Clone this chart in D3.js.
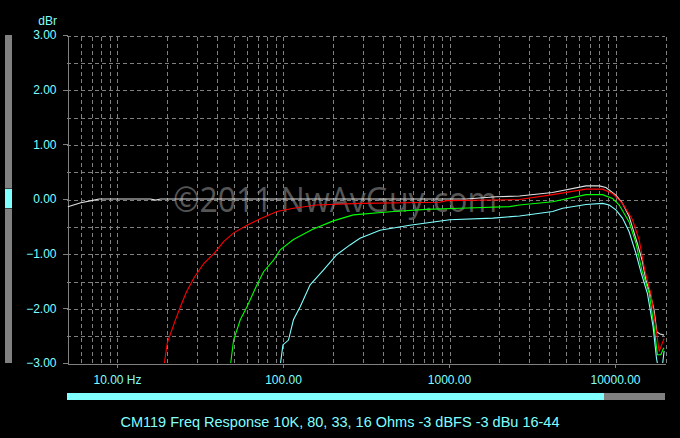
<!DOCTYPE html>
<html>
<head>
<meta charset="utf-8">
<script src="https://cdn.jsdelivr.net/npm/d3@7"></script>
<style>
  body { margin: 0; background: #000; }
  svg { display: block; }
</style>
</head>
<body>
<div id="chart"></div>
<script>
// Data: [frequency in Hz, level in dBr] ------------------------------------------------------------------------------
const load10k = [
  [5.06, -0.14], [6.05, -0.07], [7.28, -0.02], [7.8, 0], [15.9, 0], [17.1, -0.02], [18.3, 0], [1271, 0],
  [1926, 0.04], [2658, 0.055], [4197, 0.12], [6687, 0.24], [8040, 0.24], [8816, 0.21], [10120, 0.07],
  [11045, -0.07], [12160, -0.32], [12680, -0.5], [13590, -0.8], [14560, -1.12], [15340, -1.48],
  [16260, -1.72], [17190, -2.03], [17850, -2.43], [18680, -2.47], [19750, -2.49]
];
const load80 = [
  [19.2, -3.05], [20.1, -2.63], [22.5, -2.21], [24.1, -1.97], [26.2, -1.7], [29.0, -1.45], [33.3, -1.18],
  [38.6, -0.99], [43.9, -0.78], [50.4, -0.62], [60.7, -0.48], [73.0, -0.36], [91.9, -0.23],
  [115.6, -0.17], [159.8, -0.11], [290.9, -0.08], [879, -0.06], [964, -0.03], [2658, -0.01], [4213, 0.08],
  [6687, 0.18], [8413, 0.18], [9660, 0.1], [11090, -0.08], [12740, -0.38], [13980, -0.75], [15100, -1.3],
  [16430, -1.73], [17610, -2.34], [18440, -2.79], [19750, -2.55]
];
const load33 = [
  [48.2, -3.05], [50.4, -2.58], [55.3, -2.21], [60.7, -1.97], [69.7, -1.57], [76.4, -1.33], [87.7, -1.12],
  [96.2, -0.93], [115.6, -0.74], [150, -0.56], [201, -0.4], [265, -0.29], [461, -0.23], [731, -0.19],
  [1160, -0.17], [2315, -0.14], [2658, -0.11], [4213, -0.05], [6687, 0.08], [8413, 0.08], [9660, 0.01],
  [10600, -0.11], [12160, -0.42], [13350, -0.8], [14500, -1.3], [16050, -1.72], [17190, -2.34],
  [18000, -2.85], [18870, -2.85], [19470, -2.75], [19750, -2.72]
];
const load16 = [
  [96.2, -3.05], [99.9, -2.67], [107.9, -2.58], [115.6, -2.21], [126.9, -1.97], [145.7, -1.57],
  [175.1, -1.3], [210.7, -1.02], [253.3, -0.84], [290.9, -0.72], [383.6, -0.57], [580.7, -0.48],
  [1010, -0.38], [1838, -0.35], [2658, -0.31], [4213, -0.23], [4838, -0.17], [6687, -0.1], [8413, -0.08],
  [9230, -0.11], [10120, -0.2], [11090, -0.35], [12160, -0.6], [13350, -0.99], [14370, -1.35],
  [15680, -1.73], [16960, -2.34], [17750, -2.9], [18440, -3.2], [19210, -3.1], [19750, -2.78]
];

const seriesColors = ["#e0e0e0", "#ff0000", "#00ff00", "#80ffff"];

const yTicks = [-3, -2, -1, 0, 1, 2, 3];
const xTicks = [10, 100, 1000, 10000];
const xTickLabels = ["10.00 Hz", "100.00", "1000.00", "10000.00"];

const yTitle = "dBr";
const chartTitle = "CM119 Freq Response 10K, 80, 33, 16 Ohms -3 dBFS -3 dBu 16-44";
const watermark = "\u00a92011 NwAvGuy.com";

// Initialize the canvas -------------------------------------------------------------------------------------------
const canvasWidth = 680;
const canvasHeight = 438;

const plotLeft = 67;
const plotRight = 665;
const plotTop = 35;
const plotBottom = 363;

const gridColor = "#808080";
const textColor = "#80ffff";
const fontFamily = "'Liberation Sans', Arial, sans-serif";

const svg = d3.select("#chart")
  .append("svg")
  .attr("width", canvasWidth)
  .attr("height", canvasHeight)
  .style("background", "#000");

const xScale = d3.scaleLog()
  .domain([5, 20000])
  .range([plotLeft, plotRight]);
const yScale = d3.scaleLinear()
  .domain([-3, 3])
  .range([plotBottom, plotTop]);

// Watermark (sits behind the grid and traces) ---------------------------------------------------------------------
svg.append("text")
  .text(watermark)
  .attr("x", 173)
  .attr("y", 212)
  .attr("textLength", 324)
  .attr("lengthAdjust", "spacingAndGlyphs")
  .style("font-family", "'Open Sans', sans-serif")
  .style("font-size", "35px")
  .style("fill", "#555555");

// Grid ------------------------------------------------------------------------------------------------------------
const gridFreqs = [];
[1, 10, 100, 1000, 10000].forEach(function(decade) {
  d3.range(1, 10).forEach(function(m) {
    const f = m * decade;
    if (f > 5 && f <= 20000) gridFreqs.push(f);
  });
});
const gridLevels = d3.range(-2.5, 3.01, 0.5);

const xGrid = svg.append("g")
  .attr("transform", "translate(0," + plotBottom + ")")
  .call(d3.axisBottom(xScale).tickValues(gridFreqs).tickSize(-(plotBottom - plotTop)).tickFormat(""));
xGrid.select(".domain").remove();
xGrid.selectAll("line")
  .attr("transform", "translate(0.5,0)")
  .style("stroke", gridColor)
  .style("stroke-dasharray", "4,3")
  .style("shape-rendering", "crispEdges");

const yGrid = svg.append("g")
  .attr("transform", "translate(" + plotLeft + ",0)")
  .call(d3.axisRight(yScale).tickValues(gridLevels).tickSize(plotRight - plotLeft).tickFormat(""));
yGrid.select(".domain").remove();
yGrid.selectAll("line")
  .attr("transform", "translate(0,0.5)")
  .style("stroke", gridColor)
  .style("stroke-dasharray", "4,3")
  .style("shape-rendering", "crispEdges");

// Axes ------------------------------------------------------------------------------------------------------------
const yAxis = svg.append("g")
  .attr("transform", "translate(" + (plotLeft + 0.5) + ",0)")
  .call(d3.axisLeft(yScale).tickValues(yTicks).tickSize(5).tickSizeOuter(0).tickPadding(6)
    .tickFormat(d3.format(".2f")));
yAxis.selectAll("path, line")
  .style("stroke", gridColor)
  .style("shape-rendering", "crispEdges");
yAxis.selectAll("text")
  .style("fill", textColor)
  .style("font-family", fontFamily)
  .style("font-size", "12px");

const xAxis = svg.append("g")
  .attr("transform", "translate(0," + (plotBottom + 0.5) + ")")
  .call(d3.axisBottom(xScale).tickValues(xTicks).tickSize(5).tickSizeOuter(0).tickPadding(7)
    .tickFormat((d, i) => xTickLabels[i]));
xAxis.selectAll("path, line")
  .style("stroke", gridColor)
  .style("shape-rendering", "crispEdges");
xAxis.selectAll("line")
  .style("stroke-dasharray", "4,3");
xAxis.selectAll("text")
  .style("fill", textColor)
  .style("font-family", fontFamily)
  .style("font-size", "12px");

svg.append("text")
  .text(yTitle)
  .attr("x", 57)
  .attr("y", 25)
  .style("text-anchor", "end")
  .style("fill", textColor)
  .style("font-family", fontFamily)
  .style("font-size", "12px");

// Traces ----------------------------------------------------------------------------------------------------------
svg.append("clipPath")
  .attr("id", "plot-clip")
  .append("rect")
  .attr("x", plotLeft)
  .attr("y", plotTop)
  .attr("width", plotRight - plotLeft)
  .attr("height", plotBottom - plotTop);

const line = d3.line()
  .x(d => xScale(d[0]))
  .y(d => yScale(d[1]));

svg.append("g")
  .attr("clip-path", "url(#plot-clip)")
  .selectAll("path")
  .data([load10k, load80, load33, load16])
  .enter()
  .append("path")
  .attr("d", line)
  .style("fill", "none")
  .style("stroke", (d, i) => seriesColors[i])
  .style("stroke-width", 1.1);

// Scroll bars -----------------------------------------------------------------------------------------------------
svg.append("rect")
  .attr("x", 5).attr("y", plotTop)
  .attr("width", 7).attr("height", plotBottom - plotTop)
  .style("fill", "#808080");
svg.append("rect")
  .attr("x", 5).attr("y", 188)
  .attr("width", 7).attr("height", 21)
  .style("fill", "#404040");
svg.append("rect")
  .attr("x", 5).attr("y", 189)
  .attr("width", 7).attr("height", 19)
  .style("fill", "#80ffff");

svg.append("rect")
  .attr("x", plotLeft).attr("y", 393)
  .attr("width", plotRight - plotLeft).attr("height", 7)
  .style("fill", "#808080");
svg.append("rect")
  .attr("x", plotLeft).attr("y", 393)
  .attr("width", 604 - plotLeft).attr("height", 7)
  .style("fill", "#80ffff");

// Title -----------------------------------------------------------------------------------------------------------
svg.append("text")
  .text(chartTitle)
  .attr("x", 340)
  .attr("y", 427)
  .style("text-anchor", "middle")
  .style("fill", textColor)
  .style("font-family", fontFamily)
  .style("font-size", "14.5px");
</script>
</body>
</html>
